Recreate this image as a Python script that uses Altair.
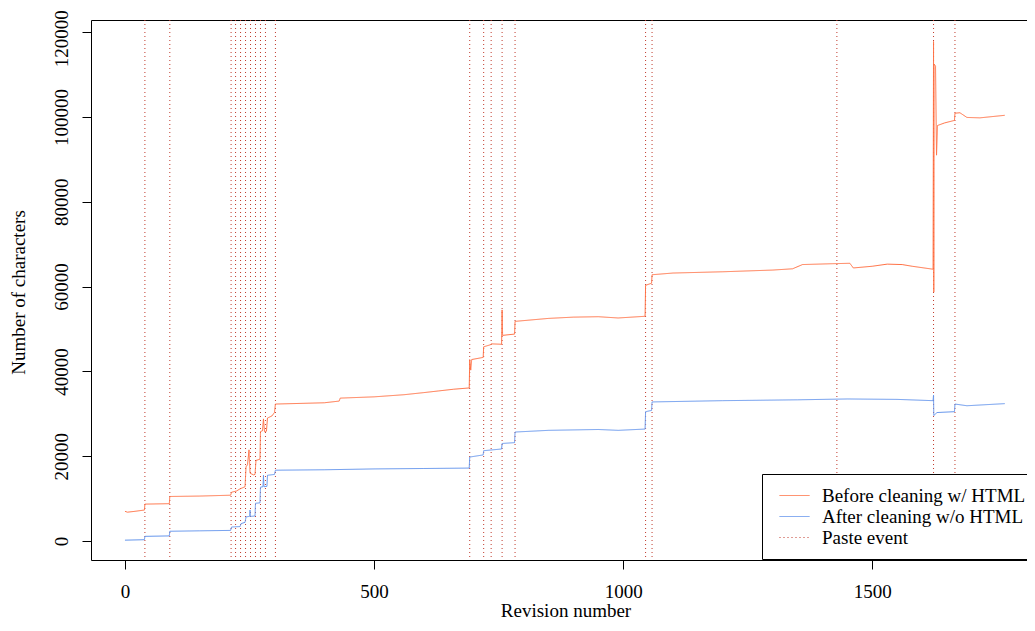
import altair as alt
import pandas as pd

# ---------------- data ----------------
rev_before = [0, 5, 20, 39, 40, 89, 90, 150, 212, 214, 224, 231, 241, 243, 246, 249, 251, 258, 261, 263,
              271, 272, 276, 278, 280, 284, 286, 295, 300, 302, 400, 430, 432, 500, 560, 600, 630, 660,
              691, 692, 694, 696, 719, 720, 734, 735, 756, 757, 758, 782, 783, 850, 900, 950, 990, 1044,
              1045, 1057, 1058, 1100, 1200, 1300, 1340, 1360, 1420, 1455, 1462, 1500, 1530, 1560, 1580,
              1622, 1623, 1623.5, 1624, 1627, 1629, 1631, 1645, 1665, 1666, 1676, 1690, 1716, 1766]
chars_before = [7000, 6800, 7000, 7300, 8700, 8800, 10500, 10600, 10800, 11500, 11800, 12300, 12800, 17500,
                18000, 21500, 16000, 15600, 15700, 19000, 19300, 25800, 26000, 28800, 25800, 25900, 29000,
                29500, 30300, 32300, 32600, 33000, 33700, 34000, 34500, 35000, 35400, 35800, 36100, 42800,
                40300, 42800, 43300, 45800, 46300, 46500, 46400, 54500, 48500, 48800, 51800, 52500, 52800,
                52900, 52600, 53000, 60300, 60800, 62800, 63200, 63500, 63900, 64200, 65200, 65400, 65500,
                64400, 64800, 65300, 65200, 64800, 64100, 117800, 58700, 112500, 112000, 91000, 98000,
                98600, 99200, 100900, 101000, 99900, 99800, 100400]

rev_after = [0, 39, 40, 89, 90, 150, 212, 214, 231, 233, 241, 243, 250, 251, 252, 261, 262, 271, 272, 277,
             278, 279, 285, 286, 300, 302, 400, 500, 600, 691, 692, 719, 720, 756, 757, 782, 783, 850, 950,
             990, 1044, 1045, 1057, 1058, 1200, 1350, 1450, 1550, 1622, 1623, 1623.5, 1630, 1665, 1666,
             1690, 1766]
chars_after = [200, 300, 1100, 1200, 2300, 2400, 2500, 3300, 3400, 4100, 4400, 5700, 5800, 7300, 5800, 5900,
               8900, 9000, 12700, 12800, 15500, 12800, 12900, 15500, 15700, 16700, 16800, 17000, 17100,
               17200, 19800, 20300, 21300, 21700, 23000, 23200, 25700, 26100, 26300, 26100, 26400, 30500,
               30800, 32800, 33100, 33300, 33500, 33400, 33100, 34400, 29600, 30300, 30500, 32300, 31900,
               32400]

paste_revs = [40, 90, 213, 222, 232, 242, 252, 262, 272, 282, 302, 692, 720, 735, 757, 783,
              1045, 1058, 1429, 1623, 1666]

SERIES = ["Before cleaning w/ HTML", "After cleaning w/o HTML", "Paste event"]
COLORS = ["#FF7043", "#6495ED", "#C0392B"]
DASHES = [[1, 0], [1, 0], [1, 3]]

x_ticks = [0, 500, 1000, 1500]
y_ticks = [0, 20000, 40000, 60000, 80000, 100000, 120000]

FONT = "Liberation Serif"
FS = 19

# ---------------- tables ----------------
lines_df = pd.concat([
    pd.DataFrame({"rev": rev_before, "chars": chars_before, "series": SERIES[0]}),
    pd.DataFrame({"rev": rev_after, "chars": chars_after, "series": SERIES[1]}),
], ignore_index=True)
paste_df = pd.DataFrame({"rev": paste_revs, "series": SERIES[2]})

xscale = alt.Scale(domain=[-68.2, 1810.6], nice=False, zero=False)
yscale = alt.Scale(domain=[-4480, 122880], nice=False, zero=False)

legend = alt.Legend(title=None, orient="none", legendX=671, legendY=454)
color = alt.Color("series:N", scale=alt.Scale(domain=SERIES, range=COLORS), legend=legend)
dash = alt.StrokeDash("series:N", scale=alt.Scale(domain=SERIES, range=DASHES), legend=legend)

x_bottom = alt.Axis(orient="bottom", values=x_ticks, format="d", tickSize=9, labelPadding=22,
                    labelBaseline="middle", labelFlush=False, title="Revision number",
                    titleX=474.5, titleY=50, titleAlign="center", titleBaseline="middle")
x_top = alt.Axis(orient="top", labels=False, ticks=False, title="", domain=True)
y_left = alt.Axis(orient="left", values=y_ticks, format="d", tickSize=9, labelPadding=11,
                  labelAngle=270, labelAlign="center", labelBaseline="bottom", labelFlush=False,
                  labelOffset={"condition": {"test": "datum.value == 120000", "value": 6}, "value": 0},
                  title="Number of characters", titleAngle=270, titleX=-73, titleY=272,
                  titleAlign="center", titleBaseline="middle")

rules = alt.Chart(paste_df).mark_rule(strokeWidth=1).encode(
    x=alt.X("rev:Q", scale=xscale, axis=x_bottom),
    color=color,
    strokeDash=dash,
)

lines = alt.Chart(lines_df).mark_line(strokeWidth=1).encode(
    x=alt.X("rev:Q", scale=xscale, axis=x_top),
    y=alt.Y("chars:Q", scale=yscale, axis=y_left),
    color=color,
    strokeDash=dash,
)

chart = alt.layer(rules, lines).properties(
    width=936, height=540,
    autosize=alt.AutoSizeParams(type="none"),
    padding={"left": 83, "top": 12, "right": 0, "bottom": 59},
    background="white",
).configure_view(
    strokeOpacity=0
).configure_axis(
    grid=False, domainColor="black", tickColor="black", domainWidth=1, tickWidth=1,
    labelColor="black", titleColor="black", labelFont=FONT, titleFont=FONT,
    labelFontSize=FS, titleFontSize=FS, titleFontWeight="normal",
).configure_legend(
    strokeColor="black", fillColor="white", padding=11, symbolOffset=6, labelOffset=12,
    rowPadding=0, clipHeight=21, symbolSize=900, symbolStrokeWidth=1, symbolType="stroke",
    labelFont=FONT, labelFontSize=FS, labelColor="black", labelLimit=400, cornerRadius=0,
)

chart.save("out.html", embed_options={"renderer": "svg", "actions": False})
